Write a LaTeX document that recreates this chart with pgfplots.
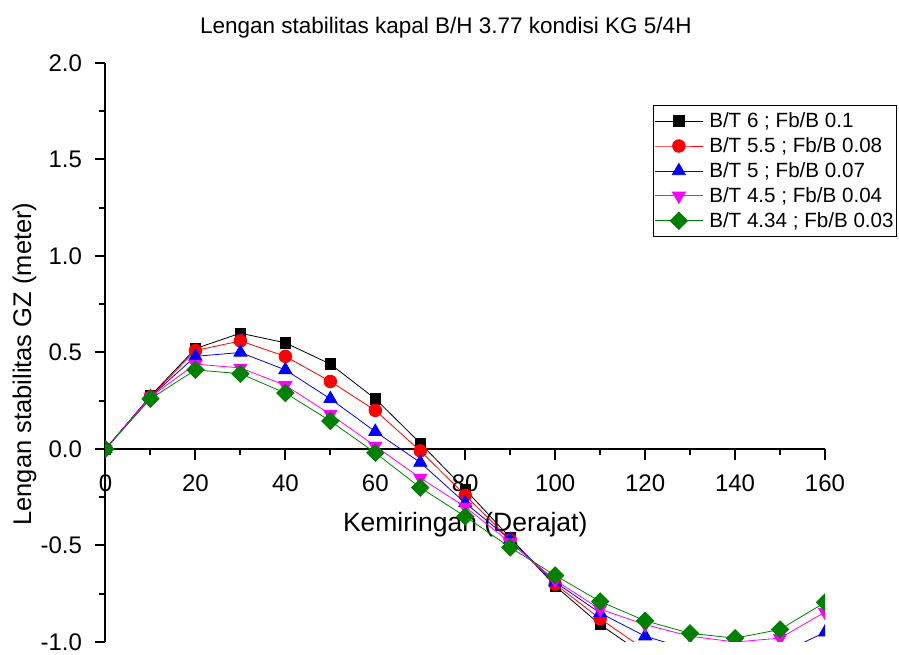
\documentclass[border=0pt]{standalone}
\usepackage{fontspec}
\setmainfont{Liberation Sans}
\usepackage{pgfplots}
\pgfplotsset{compat=1.18}
\usepackage{pgfplotstable}

\pgfplotstableread{
x   bk     rd     bl     mg     gr
0   0      0      0      0      0
10  0.275  0.27   0.27   0.27   0.26
20  0.52   0.51   0.48   0.44   0.41
30  0.60   0.56   0.50   0.42   0.39
40  0.55   0.48   0.41   0.33   0.29
50  0.44   0.35   0.26   0.18   0.145
60  0.26   0.20   0.09   0.015  -0.02
70  0.03   -0.01  -0.07  -0.15  -0.20
80  -0.21  -0.24  -0.28  -0.30  -0.35
90  -0.46  -0.47  -0.47  -0.485 -0.51
100 -0.71  -0.70  -0.69  -0.68  -0.655
110 -0.91  -0.88  -0.85  -0.83  -0.79
120 -1.07  -1.04  -0.97  -0.91  -0.89
130 -1.17  -1.10  -1.04  -0.97  -0.955
140 -1.21  -1.14  -1.07  -1.00  -0.98
150 -1.18  -1.15  -1.06  -0.98  -0.935
160 -1.09  -1.04  -0.95  -0.845 -0.795
}\gzdata

\definecolor{ogreen}{RGB}{0,128,0}
\definecolor{ored}{RGB}{255,0,0}
\definecolor{oblue}{RGB}{0,0,255}
\definecolor{omag}{RGB}{255,0,255}

\begin{document}
\begin{tikzpicture}
\useasboundingbox (-105.5pt,-13pt) rectangle (793.5pt,642pt);
% x axis line at y = 0
\begin{axis}[
  at={(0pt,193pt)}, anchor=south west,
  scale only axis, width=719.5pt, height=10pt,
  xmin=0, xmax=160, ymin=0, ymax=1,
  axis x line=bottom, axis y line=none,
  x axis line style={-, line width=2pt, black},
  xtick={0,20,40,60,80,100,120,140,160},
  minor x tick num=1,
  tick align=outside,
  major tick length=11pt, minor tick length=6pt,
  xtick style={line width=2pt, black},
  /pgf/number format/assume math mode=true,
  ticklabel style={font=\fontsize{24}{24}\selectfont},
  xticklabel style={yshift=-11pt},
  xlabel={Kemiringan (Derajat)},
  xlabel style={at={(axis description cs:0.5,-8.2)}, anchor=base, font=\fontsize{26.5}{30}\selectfont, inner sep=0pt},
]
\end{axis}
\begin{axis}[
  at={(0pt,0pt)}, anchor=south west,
  scale only axis, width=719.5pt, height=579pt,
  xmin=0, xmax=160, ymin=-1, ymax=2,
  axis y line=left, axis x line=none,
  y axis line style={-, line width=2pt, black},
  ytick={-1,-0.5,0,0.5,1,1.5,2},
  yticklabels={-1.0,-0.5,0.0,0.5,1.0,1.5,2.0},
  minor y tick num=1,
  tick align=outside,
  major tick length=11pt, minor tick length=6pt,
  major tick style={line width=2pt, black},
  minor tick style={line width=2pt, black},
  /pgf/number format/assume math mode=true,
  ticklabel style={font=\fontsize{24}{24}\selectfont},
  yticklabel style={xshift=-9pt},
  clip marker paths=true,
  title={Lengan stabilitas kapal B/H 3.77 kondisi KG 5/4H},
  title style={at={(axis description cs:0.473,1.0405)}, anchor=base, font=\fontsize{22.5}{27}\selectfont, inner sep=0pt},
  ylabel={Lengan stabilitas GZ (meter)},
  ylabel style={at={(axis description cs:-0.1035,0.48)}, anchor=base, font=\fontsize{25.5}{30}\selectfont, inner sep=0pt},
  legend style={at={(axis description cs:1.1001,0.9275)}, anchor=north east, draw=black, line width=0.8pt,
    font=\fontsize{20.6}{24}\selectfont, cells={anchor=west}, inner xsep=1pt, inner ysep=5.5pt, row sep=4.5pt,
    /tikz/every odd column/.append style={column sep=4pt}},
  legend image code/.code={\draw[mark repeat=2,mark phase=2] plot coordinates {(0pt,0pt) (24pt,0pt) (48pt,0pt)};},
]
\addplot[black, line width=0.8pt, mark=square*, mark size=5.2pt] table[x=x,y=bk] {\gzdata};
\addlegendentry{B/T 6 ; Fb/B 0.1}
\addplot[ored, line width=0.8pt, mark=*, mark size=6.3pt] table[x=x,y=rd] {\gzdata};
\addlegendentry{B/T 5.5 ; Fb/B 0.08}
\addplot[oblue, line width=0.8pt, mark=triangle*, mark size=7.5pt] table[x=x,y=bl] {\gzdata};
\addlegendentry{B/T 5 ; Fb/B 0.07}
\addplot[omag, line width=0.8pt, mark=triangle*, mark size=7.5pt, mark options={rotate=180}] table[x=x,y=mg] {\gzdata};
\addlegendentry{B/T 4.5 ; Fb/B 0.04}
\addplot[ogreen, line width=0.8pt, mark=square*, mark size=6.1pt, mark options={rotate=45}] table[x=x,y=gr] {\gzdata};
\addlegendentry{B/T 4.34 ; Fb/B 0.03}
\end{axis}
\end{tikzpicture}
\end{document}
